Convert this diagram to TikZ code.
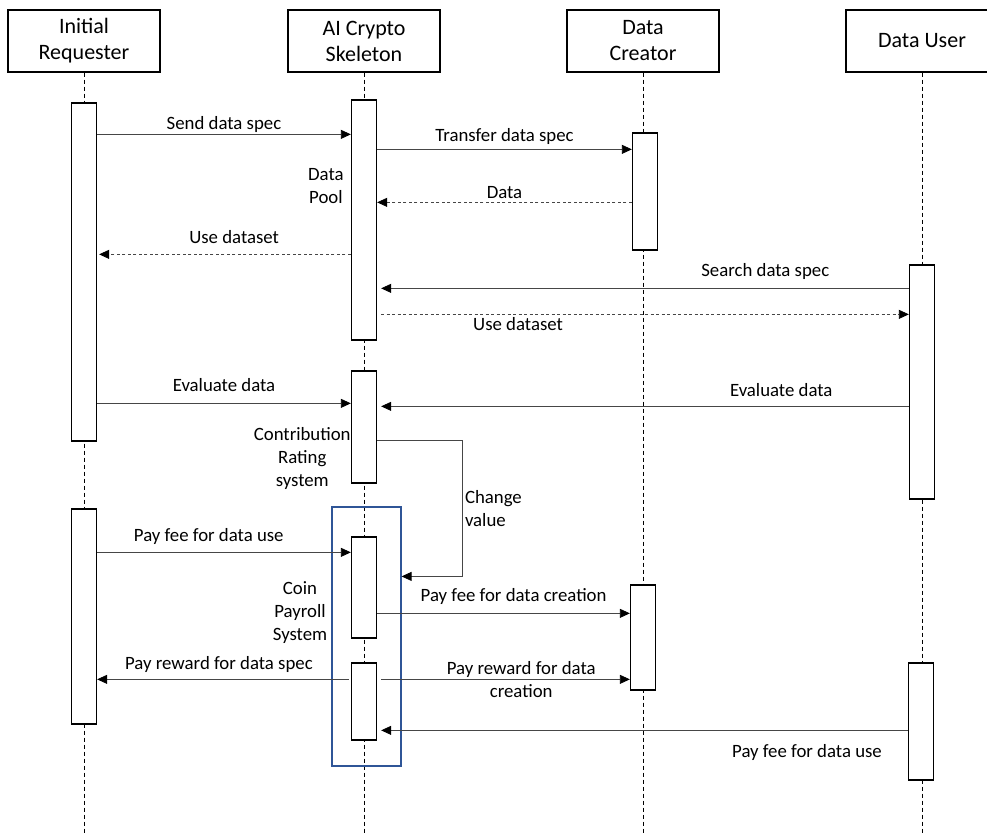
\documentclass[tikz,border=0pt]{standalone}
\usepackage{fontspec}
\setmainfont{Carlito}
\usetikzlibrary{arrows.meta}
\definecolor{boxblu}{RGB}{47,85,151}
\definecolor{linea}{RGB}{70,70,70}

\begin{document}
\begin{tikzpicture}[x=1pt, y=-1pt,
    header/.style={draw, line width=1.3pt, fill=white, minimum width=152pt, minimum height=62pt,
      align=center, font=\fontsize{22}{26}\selectfont},
    bar/.style={draw, line width=1.3pt, fill=white, minimum width=25pt, inner sep=0pt},
    life/.style={dash pattern=on 4pt off 3pt, line width=0.6pt},
    msg/.style={draw=linea, line width=0.8pt, -{Triangle[length=10pt,width=9pt,color=black]}},
    reply/.style={msg, dash pattern=on 3pt off 2.5pt},
    lbl/.style={font=\fontsize{18.8}{23}\selectfont, align=center, inner sep=2pt},
  ]
    \useasboundingbox (0,0) rectangle (987,835);
    \clip (0,0) rectangle (987,835);

    % Partecipanti e linee di vita
    \coordinate (bottom) at (0,835);
    \foreach \n/\x/\t in {ir/84/{Initial\\Requester}, ai/364/{AI Crypto\\Skeleton},
                          dc/643/{Data\\Creator}, du/922/{Data User}} {
        \node[header] (h\n) at (\x,41) {\t};
        \draw[life] (h\n.south) -- (h\n.south |- bottom);
    }

    % Barre di attivazione
    \node[bar, minimum height=338pt] (ir1) at (84,272) {};
    \node[bar, minimum height=215pt] (ir2) at (84,616.5) {};
    \node[bar, minimum height=240pt] (ai1) at (364,220) {};
    \node[bar, minimum height=112pt] (ai2) at (364,427) {};
    \node[bar, minimum height=101pt] (ai3) at (364,587.5) {};
    \node[bar, minimum height=77pt] (ai4) at (364,701.5) {};
    \node[bar, minimum height=117pt] (dc1) at (645,191.5) {};
    \node[bar, minimum height=105pt] (dc2) at (643,637.5) {};
    \node[bar, minimum height=234pt] (du1) at (922,382) {};
    \node[bar, minimum height=117pt] (du2) at (921,721.5) {};

    % Riquadro pagamenti
    \node[draw=boxblu, line width=1.2pt, minimum width=69pt, minimum height=259pt] (coin) at (366.5,636.5) {};

    % Richiesta dati
    \coordinate (m1) at ([yshift=-32pt]ir1.north east);
    \draw[msg] (m1) -- (m1 -| ai1.west) node[lbl, midway, yshift=10pt] {Send data spec};
    \coordinate (m2) at ([yshift=-50pt]ai1.north east);
    \draw[msg] (m2) -- (m2 -| dc1.west) node[lbl, midway, yshift=13pt] {Transfer data spec};
    \coordinate (m3) at ([yshift=-70pt]dc1.north west);
    \draw[reply] (m3) -- (m3 -| ai1.east) node[lbl, midway, yshift=10pt] {Data};
    \coordinate (m4) at ([yshift=-155pt]ai1.north west);
    \draw[reply, shorten >=2pt] (m4) -- (m4 -| ir1.east) node[lbl, pos=0.46, yshift=17pt] {Use dataset};
    \coordinate (m5) at ([yshift=-24pt]du1.north west);
    \draw[msg, shorten >=4pt] (m5) -- (m5 -| ai1.east) node[lbl, pos=0.27, yshift=17pt] {Search data spec};
    \coordinate (m6) at ([yshift=-215pt]ai1.north east);
    \draw[reply, shorten <=4pt] (m6) -- (m6 -| du1.west) node[lbl, pos=0.265, yshift=-10pt] {Use dataset};

    % Valutazione
    \coordinate (m7) at ([yshift=-301pt]ir1.north east);
    \draw[msg] (m7) -- (m7 -| ai2.west) node[lbl, midway, yshift=18pt] {Evaluate data};
    \coordinate (m8) at ([yshift=-142pt]du1.north west);
    \draw[msg, shorten >=4pt] (m8) -- (m8 -| ai2.east) node[lbl, pos=0.24, yshift=16pt] {Evaluate data};
    \coordinate (m9) at ([yshift=-70pt]ai2.north east);
    \coordinate (m9b) at ([yshift=-70pt]coin.north east);
    \draw[msg] (m9) -| ([xshift=61pt]m9b) node[lbl, pos=0.75, right, align=left] {Change\\value} -- (m9b);

    % Pagamenti
    \coordinate (m10) at ([yshift=-44pt]ir2.north east);
    \draw[msg] (m10) -- (m10 -| ai3.west) node[lbl, pos=0.44, yshift=16pt] {Pay fee for data use};
    \coordinate (m11) at ([yshift=-77pt]ai3.north east);
    \draw[msg] (m11) -- (m11 -| dc2.west) node[lbl, pos=0.54, yshift=17pt] {Pay fee for data creation};
    \coordinate (m12) at ([yshift=-17pt]ai4.north west);
    \draw[msg, shorten <=2pt] (m12) -- (m12 -| ir2.east) node[lbl, pos=0.52, yshift=15pt] {Pay reward for data spec};
    \draw[msg, shorten <=4pt] (m12 -| ai4.east) -- (m12 -| dc2.west) node[lbl, pos=0.57] {Pay reward for data\\creation};
    \coordinate (m14) at ([yshift=-68pt]du2.north west);
    \draw[msg, shorten >=4pt] (m14) -- (m14 -| ai4.east) node[lbl, pos=0.19, yshift=-22pt] {Pay fee for data use};

    % Etichette laterali
    \node[lbl, anchor=east] (pool) at ([xshift=-5pt, yshift=-87pt]ai1.north west) {Data\\Pool};
    \node[lbl, anchor=east, inner sep=0pt] (rating) at ([yshift=-88pt]ai2.north west) {Contribution\\Rating\\system};
    \node[lbl, anchor=east, inner sep=0pt] (payroll) at ([xshift=-4pt, yshift=-106pt]coin.north west) {Coin\\Payroll\\System};
\end{tikzpicture}
\end{document}
